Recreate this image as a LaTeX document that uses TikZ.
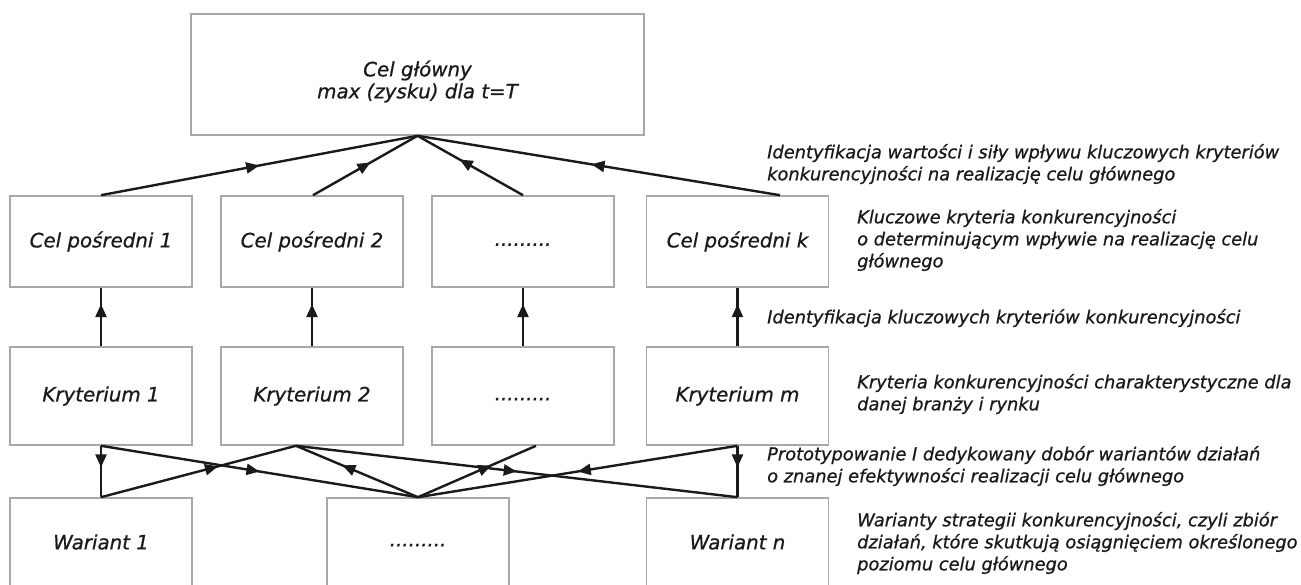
\documentclass[tikz,border=0pt]{standalone}
\usepackage{fontspec}
\setmainfont{DejaVu Sans}[ItalicFeatures={FakeBold=0.8}]
\usetikzlibrary{arrows.meta,decorations.markings}
\definecolor{boxgray}{HTML}{A8A8A8}
\definecolor{ink}{HTML}{1A1A1A}
\tikzset{
  box/.style={draw=boxgray, line width=1.6pt, minimum width=182pt, inner sep=0pt,
    font=\fontsize{19.8}{22}\selectfont\itshape, text=ink, align=center},
  boxtext/.style={inner sep=0pt, font=\fontsize{19.8}{22}\selectfont\itshape, text=ink, align=center},
  side/.style={anchor=west, inner sep=0pt, align=left, text=ink,
    font=\fontsize{17.8}{22}\selectfont\itshape},
  conn/.style={draw=ink, line width=2.4pt},
  midarrow/.style={postaction={decorate, decoration={markings,
    mark=at position #1 with {\arrow[ink]{Triangle[length=13pt,width=11pt]}}}}},
  midarrow/.default=0.55
}
\begin{document}
\begin{tikzpicture}[x=1pt,y=-1pt]
\useasboundingbox (0,0) rectangle (1301,585);
% top box
\node[box, minimum width=453pt, minimum height=121pt] (top) at (417.5,74.5) {};
\node[boxtext] (toptext) at ([yshift=-7pt]top.center) {Cel główny\\max (zysku) dla t=T};
% row 2
\node[box, minimum height=91pt] (c1) at (101,241.5) {Cel pośredni 1};
\node[box, minimum height=91pt] (c2) at (312,241.5) {Cel pośredni 2};
\node[box, minimum height=91pt] (c3) at (523,241.5) {\strut.........};
\node[box, minimum height=91pt] (c4) at (737.5,241.5) {Cel pośredni k};
% row 3
\node[box, minimum height=98pt] (k1) at (101,396) {Kryterium 1};
\node[box, minimum height=98pt] (k2) at (312,396) {Kryterium 2};
\node[box, minimum height=98pt] (k3) at (523,396) {\strut.........};
\node[box, minimum height=98pt] (k4) at (737.5,396) {Kryterium m};
% row 4
\node[box, minimum height=88pt] (w1) at (101,542) {Wariant 1};
\node[box, minimum height=88pt] (w2) at (418,542) {\strut.........};
\node[box, minimum height=88pt] (w3) at (737.5,542) {Wariant n};
% anchor points
\coordinate (tp) at (top.south);
\coordinate (c1n) at (c1.north);
\coordinate (c2n) at ([xshift=1pt]c2.north);
\coordinate (c3n) at (c3.north);
\coordinate (c4n) at ([xshift=42.5pt]c4.north);
\coordinate (k2s) at ([xshift=-16pt]k2.south);
\coordinate (k3s) at ([xshift=13pt]k3.south);
% top connectors
\draw[conn, midarrow=0.5] (c1n) -- (tp);
\draw[conn, midarrow=0.55] (c2n) -- (tp);
\draw[conn, midarrow=0.6] (c3n) -- (tp);
\draw[conn, midarrow=0.52] (c4n) -- (tp);
% row3 -> row2
\draw[conn, midarrow=0.72] (k1.north) -- (c1.south);
\draw[conn, midarrow=0.72] (k2.north) -- (c2.south);
\draw[conn, midarrow=0.72] (k3.north) -- (c3.south);
\draw[conn, midarrow=0.72] (k4.north) -- (c4.south);
% row3 -> row4
\draw[conn, midarrow=0.42] (k1.south) -- (w1.north);
\draw[conn, midarrow=0.42] (k4.south) -- (w3.north);
\draw[conn, midarrow=0.5] (k1.south) -- (w2.north);
\draw[conn, midarrow=0.6] (w1.north) -- (k2s);
\draw[conn, midarrow=0.62] (w2.north) -- (k2s);
\draw[conn, midarrow=0.62] (w2.north) -- (k3s);
\draw[conn, midarrow=0.5] (k2s) -- (w3.north);
\draw[conn, midarrow=0.5] (k4.south) -- (w2.north);
% side texts
\node[side] (s1) at (767,164) {Identyfikacja wartości i siły wpływu kluczowych kryteriów\\konkurencyjności na realizację celu głównego};
\node[side] (s2) at (857,240) {Kluczowe kryteria konkurencyjności\\o determinującym wpływie na realizację celu\\głównego};
\node[side] (s3) at (767,318) {Identyfikacja kluczowych kryteriów konkurencyjności};
\node[side] (s4) at (857,394) {Kryteria konkurencyjności charakterystyczne dla\\danej branży i rynku};
\node[side] (s5) at (767,466) {Prototypowanie I dedykowany dobór wariantów działań\\o znanej efektywności realizacji celu głównego};
\node[side] (s6) at (857,543) {Warianty strategii konkurencyjności, czyli zbiór\\działań, które skutkują osiągnięciem określonego\\poziomu celu głównego};
\end{tikzpicture}
\end{document}
